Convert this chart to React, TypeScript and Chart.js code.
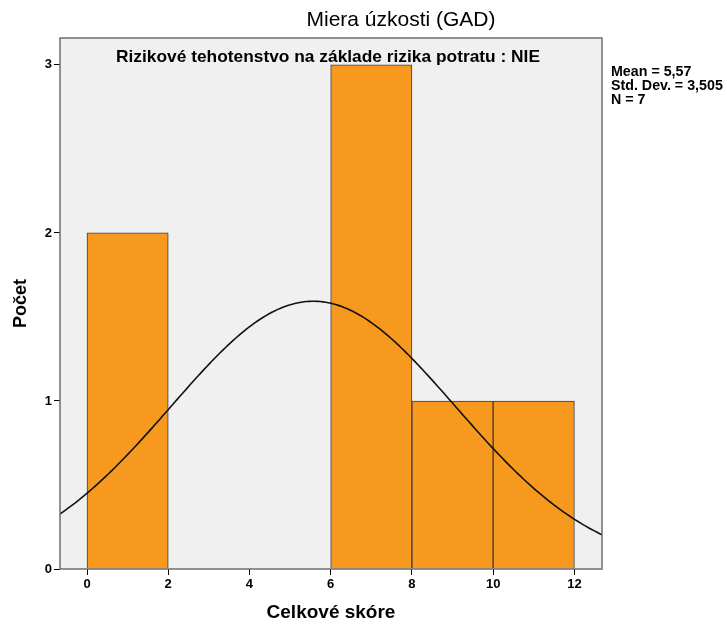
import React, { useEffect, useRef } from "react";
import { Chart, registerables } from "chart.js";

Chart.register(...registerables);

const binCenters = [1, 3, 5, 7, 9, 11];
const counts = [2, 0, 0, 3, 1, 1];
const xTicks = [0, 2, 4, 6, 8, 10, 12];
const yTicks = [0, 1, 2, 3];
const meanValue = 5.57;
const sdValue = 3.505;
const nValue = 7;
const binWidth = 2;
const titleText = "Miera úzkosti (GAD)";
const subtitleText = "Rizikové tehotenstvo na základe rizika potratu : NIE";
const statLines = ["Mean = 5,57", "Std. Dev. = 3,505", "N = 7"];
const xTitle = "Celkové skóre";
const yTitle = "Počet";
const xMin = -0.665;
const xMax = 12.68;
const yMax = 3.16;

const SANS = "'Liberation Sans', Arial, sans-serif";

// normal curve scaled to histogram counts (from Mean, Std. Dev., N shown in chart)
function normalCurve() {
  const pts: { x: number; y: number }[] = [];
  const steps = 200;
  for (let i = 0; i <= steps; i++) {
    const x = xMin + ((xMax - xMin) * i) / steps;
    const z = (x - meanValue) / sdValue;
    const y = (nValue * binWidth) / (sdValue * Math.sqrt(2 * Math.PI)) * Math.exp(-0.5 * z * z);
    pts.push({ x, y });
  }
  return pts;
}

function drawScaled(ctx: CanvasRenderingContext2D, text: string, x: number, y: number, sx: number, align: CanvasTextAlign) {
  ctx.save();
  ctx.translate(x, y);
  ctx.scale(sx, 1);
  ctx.textAlign = align;
  ctx.fillText(text, 0, 0);
  ctx.restore();
}

const framePlugin = {
  id: "frame",
  beforeDatasetsDraw(chart: any) {
    const { ctx, chartArea: a } = chart;
    ctx.save();
    ctx.fillStyle = "#f0f0f0";
    ctx.fillRect(a.left, a.top, a.right - a.left, a.bottom - a.top);
    ctx.restore();
  },
  afterDraw(chart: any) {
    const { ctx, chartArea: a } = chart;
    ctx.save();
    ctx.strokeStyle = "#6e6e6e";
    ctx.lineWidth = 1.5;
    ctx.strokeRect(a.left, a.top, a.right - a.left, a.bottom - a.top);
    ctx.fillStyle = "#000";
    ctx.textBaseline = "middle";
    ctx.font = `21px ${SANS}`;
    drawScaled(ctx, titleText, 401, 20, 1.0, "center");
    ctx.font = `bold 17px ${SANS}`;
    drawScaled(ctx, subtitleText, 328, 57, 1.02, "center");
    ctx.font = `bold 15px ${SANS}`;
    statLines.forEach((s, i) => drawScaled(ctx, s, 611, 72 + i * 14, 0.95, "left"));
    ctx.restore();
  },
};

export default function App() {
  const ref = useRef<HTMLCanvasElement>(null);
  useEffect(() => {
    if (!ref.current) return;
    const barData = binCenters
      .map((c, i) => ({ x: c, y: counts[i] }))
      .filter((d) => d.y > 0);
    const chart = new Chart(ref.current, {
      type: "bar",
      data: {
        datasets: [
          {
            type: "line",
            data: normalCurve(),
            borderColor: "#111",
            borderWidth: 1.6,
            pointRadius: 0,
            tension: 0,
            fill: false,
            order: 0,
          } as any,
          {
            type: "bar",
            data: barData,
            backgroundColor: "#f7991e",
            borderColor: "#3c3c3c",
            borderWidth: 1,
            barPercentage: 1,
            categoryPercentage: 1,
            order: 1,
          } as any,
        ],
      },
      options: {
        responsive: false,
        animation: false,
        layout: { padding: { left: 0, right: 125, top: 38, bottom: 0 } },
        plugins: { legend: { display: false }, tooltip: { enabled: false }, title: { display: false } },
        scales: {
          x: {
            type: "linear",
            min: xMin,
            max: xMax,
            offset: false,
            afterBuildTicks: (s: any) => {
              s.ticks = xTicks.map((v) => ({ value: v }));
            },
            afterFit: (s: any) => {
              s.height = 57;
            },
            grid: { offset: false, drawOnChartArea: false, drawTicks: true, tickLength: 6, color: "#000", lineWidth: 1 },
            border: { display: false },
            ticks: { color: "#000", font: { family: SANS, weight: "bold", size: 13 }, padding: 2, maxRotation: 0 },
            title: { display: true, text: xTitle, color: "#000", font: { family: SANS, weight: "bold", size: 19 }, padding: { top: 0, bottom: 2 } },
          },
          y: {
            min: 0,
            max: yMax,
            afterBuildTicks: (s: any) => {
              s.ticks = yTicks.map((v) => ({ value: v }));
            },
            afterFit: (s: any) => {
              s.width = 60;
            },
            grid: { drawOnChartArea: false, drawTicks: true, tickLength: 6, color: "#000", lineWidth: 1 },
            border: { display: false },
            ticks: { color: "#000", font: { family: SANS, weight: "bold", size: 13 }, padding: 2 },
            title: { display: true, text: yTitle, color: "#000", font: { family: SANS, weight: "bold", size: 18 }, padding: { top: 10, bottom: 0 } },
          },
        },
      },
      plugins: [framePlugin],
    });
    return () => chart.destroy();
  }, []);
  return (
    <canvas
      ref={ref}
      width={727}
      height={626}
      style={{ position: "absolute", left: 0, top: 0, width: 727, height: 626, background: "#fff" }}
    />
  );
}
